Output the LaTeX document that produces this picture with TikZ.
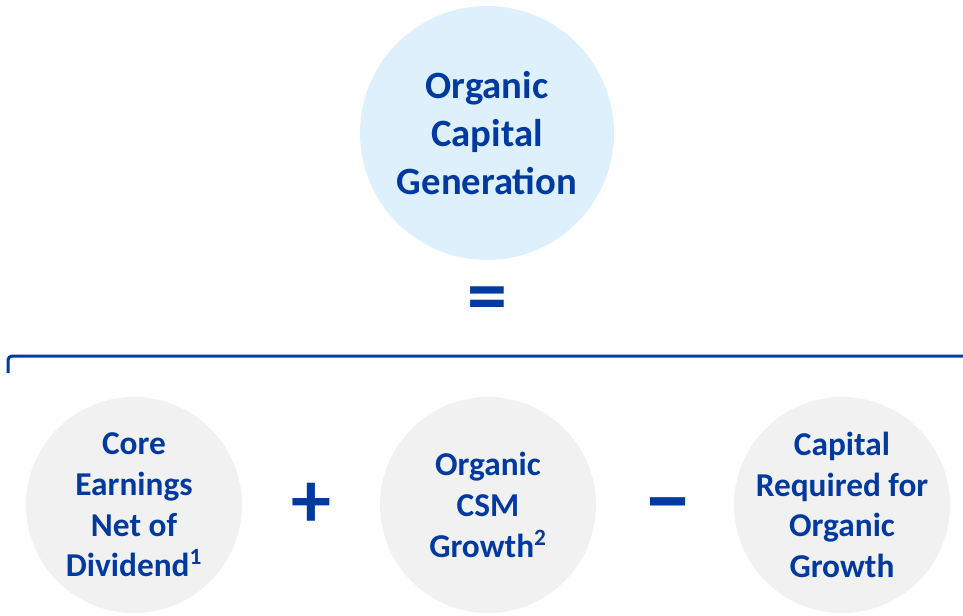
\documentclass[tikz,border=0pt]{standalone}
\usepackage{fontspec}
\setmainfont{Carlito}
\usetikzlibrary{positioning}
\definecolor{ocgblue}{RGB}{0,58,160}
\definecolor{ocgtop}{RGB}{222,240,252}
\definecolor{ocggrey}{RGB}{241,241,241}
\tikzset{
  bigball/.style={circle,fill=ocgtop,minimum size=190.5pt,inner sep=-30pt,
    align=center,text=ocgblue,font=\bfseries\fontsize{29}{36}\selectfont},
  ball/.style={circle,fill=ocggrey,minimum size=162pt,inner sep=-30pt,
    align=center,text=ocgblue,font=\bfseries\fontsize{25}{30.5}\selectfont},
  sign/.style={text=ocgblue,inner sep=0pt,font=\bfseries\fontsize{60}{60}\selectfont}
}

\begin{document}
\begin{tikzpicture}[x=0.75pt,y=-0.75pt,node distance=265.5pt]
    \useasboundingbox (0,0) rectangle (963,616);

    \node (gen) [bigball] at (487,133) {Organic\\Capital\\Generation};
    \node (eq) [sign] at (487,305) {=};

    % bracket under the equals sign
    \coordinate (bl) at (8,373);
    \coordinate (br) at (975,356);
    \draw[ocgblue,line width=2.25pt,rounded corners=3pt] (bl) |- (br);

    \node (core) [ball] at (134,505) {Core\\Earnings\\Net of\\Dividend\textsuperscript{1}};
    \node (csm) [ball,right of=core] {Organic\\CSM\\Growth\textsuperscript{2}};
    \node (req) [ball,right of=csm] {Capital\\Required for\\Organic\\Growth};

    \node (plus) [sign,right of=core,node distance=132.75pt] {+};
    \node (minus) [sign,right of=csm,node distance=135pt,yshift=-7pt,
      font=\bfseries\fontsize{68}{68}\selectfont] {−};
\end{tikzpicture}
\end{document}
